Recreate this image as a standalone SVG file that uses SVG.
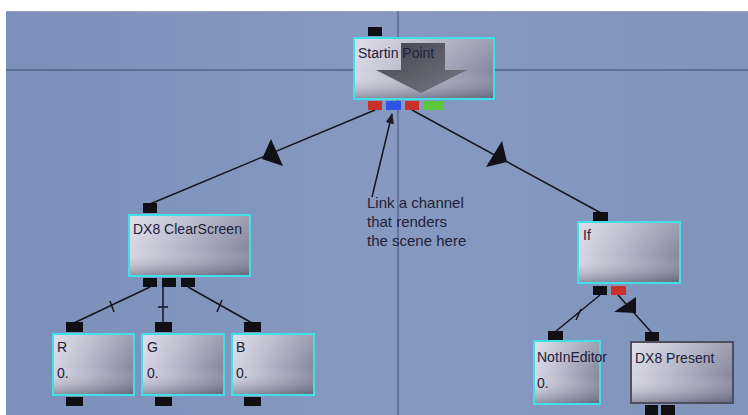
<svg xmlns="http://www.w3.org/2000/svg" width="748" height="415" viewBox="0 0 748 415">
  <defs>
    <linearGradient id="nodeFill" x1="0" y1="0" x2="1" y2="0">
      <stop offset="0" stop-color="#d8d6e4"/>
      <stop offset="0.45" stop-color="#b4b5c8"/>
      <stop offset="1" stop-color="#85879e"/>
    </linearGradient>
    <linearGradient id="nodeShade" x1="0" y1="0" x2="0" y2="1">
      <stop offset="0" stop-color="#ffffff" stop-opacity="0.2"/>
      <stop offset="0.55" stop-color="#ffffff" stop-opacity="0"/>
      <stop offset="1" stop-color="#34364e" stop-opacity="0.4"/>
    </linearGradient>
    <linearGradient id="arrowFill" x1="0" y1="0" x2="1" y2="1">
      <stop offset="0" stop-color="#44444f"/>
      <stop offset="1" stop-color="#777786"/>
    </linearGradient>
    <linearGradient id="panel" x1="0" y1="0" x2="1" y2="0">
      <stop offset="0" stop-color="#7b8fb9"/>
      <stop offset="0.5" stop-color="#8799c0"/>
      <stop offset="1" stop-color="#8094bc"/>
    </linearGradient>
    <marker id="tip" viewBox="0 0 10 10" refX="9" refY="5" markerWidth="7" markerHeight="7" orient="auto">
      <path d="M0,1 L10,5 L0,9 z" fill="#1a1a24"/>
    </marker>
  </defs>
  <style>
    .body { fill: url(#nodeFill); stroke: #3fe0e6; stroke-width: 2; }
    .shade { fill: url(#nodeShade); }
    .plain { stroke: #4e4e5c; }
    .pin { fill: #101014; }
    .red { fill: #c8302a; }
    .blue { fill: #2c55e6; }
    .green { fill: #58c83a; }
    .lbl { font-family: "Liberation Sans", Arial, sans-serif; font-size: 14px; fill: #20203a; }
    .note { font-family: "Liberation Sans", Arial, sans-serif; font-size: 15px; fill: #1e2238; }
    .link { stroke: #15151e; stroke-width: 1.5; fill: none; }
    .mark { fill: #111118; }
  </style>

  <!-- canvas -->
  <rect x="0" y="0" width="748" height="415" fill="#ffffff"/>
  <rect x="6" y="11" width="742" height="404" fill="url(#panel)"/>
  <line x1="6" y1="11.5" x2="748" y2="11.5" stroke="#9aa4bc" stroke-width="1"/>
  <line x1="6" y1="70" x2="748" y2="70" stroke="#55648a" stroke-width="1.5"/>
  <line x1="398" y1="11" x2="398" y2="415" stroke="#5a6a92" stroke-width="1.5"/>

  <!-- connectors -->
  <g id="connectors">
    <line class="link" x1="375" y1="110" x2="150" y2="204"/>
    <polygon class="mark" points="271,139 262,159 283,166"/>
    <line class="link" x1="412" y1="110" x2="601" y2="213"/>
    <polygon class="mark" points="502,141 486,167 507,162"/>
    <line class="link" x1="150" y1="287" x2="74" y2="323"/>
    <line class="link" x1="110" y1="301" x2="114" y2="312"/>
    <line class="link" x1="163" y1="287" x2="163" y2="323"/>
    <line class="link" x1="158" y1="307" x2="168" y2="307"/>
    <line class="link" x1="188" y1="287" x2="252" y2="323"/>
    <line class="link" x1="222" y1="300" x2="217" y2="312"/>
    <line class="link" x1="600" y1="295" x2="555" y2="332"/>
    <line class="link" x1="581" y1="309" x2="576" y2="320"/>
    <line class="link" x1="618" y1="295" x2="652" y2="333"/>
    <polygon class="mark" points="614,312 636,297 636,313"/>
    <line class="link" x1="372" y1="197" x2="392" y2="114" marker-end="url(#tip)"/>
  </g>

  <!-- annotation -->
  <g id="note">
    <text class="note" x="367" y="208">Link a channel</text>
    <text class="note" x="367" y="227">that renders</text>
    <text class="note" x="367" y="246">the scene here</text>
  </g>

  <!-- Startin Point -->
  <g id="start">
    <rect class="pin" x="368" y="27" width="14" height="9"/>
    <rect class="body" x="354" y="38" width="140" height="61"/>
    <rect class="shade" x="355" y="39" width="138" height="59"/>
    <path d="M401,43 H445 V70 H467 L421,93 L376,70 H401 Z" fill="url(#arrowFill)"/>
    <text class="lbl" x="358" y="58" font-size="14.5">Startin Point</text>
    <rect class="red" x="368" y="101" width="14" height="9"/>
    <rect class="blue" x="386" y="101" width="15" height="9"/>
    <rect class="red" x="405" y="101" width="14" height="9"/>
    <rect class="green" x="424" y="101" width="20" height="9"/>
  </g>

  <!-- DX8 ClearScreen -->
  <g id="clearscreen">
    <rect class="pin" x="143" y="203" width="14" height="10"/>
    <rect class="body" x="129" y="215" width="121" height="61"/>
    <rect class="shade" x="130" y="216" width="119" height="59"/>
    <text class="lbl" x="133" y="234">DX8 ClearScreen</text>
    <rect class="pin" x="143" y="278" width="14" height="9"/>
    <rect class="pin" x="162" y="278" width="14" height="9"/>
    <rect class="pin" x="181" y="278" width="14" height="9"/>
  </g>

  <!-- R -->
  <g id="r">
    <rect class="pin" x="66" y="322" width="17" height="10"/>
    <rect class="body" x="53" y="334" width="81" height="61"/>
    <rect class="shade" x="54" y="335" width="79" height="59"/>
    <text class="lbl" x="57" y="352">R</text>
    <text class="lbl" x="57" y="378">0.</text>
    <rect class="pin" x="66" y="397" width="17" height="9"/>
  </g>

  <!-- G -->
  <g id="g">
    <rect class="pin" x="155" y="322" width="17" height="10"/>
    <rect class="body" x="142" y="334" width="82" height="61"/>
    <rect class="shade" x="143" y="335" width="80" height="59"/>
    <text class="lbl" x="147" y="352">G</text>
    <text class="lbl" x="147" y="378">0.</text>
    <rect class="pin" x="155" y="397" width="17" height="9"/>
  </g>

  <!-- B -->
  <g id="b">
    <rect class="pin" x="244" y="322" width="17" height="10"/>
    <rect class="body" x="232" y="334" width="82" height="61"/>
    <rect class="shade" x="233" y="335" width="80" height="59"/>
    <text class="lbl" x="236" y="352">B</text>
    <text class="lbl" x="236" y="378">0.</text>
    <rect class="pin" x="244" y="397" width="17" height="9"/>
  </g>

  <!-- If -->
  <g id="if">
    <rect class="pin" x="593" y="212" width="15" height="9"/>
    <rect class="body" x="578" y="222" width="102" height="61"/>
    <rect class="shade" x="579" y="223" width="100" height="59"/>
    <text class="lbl" x="583" y="240">If</text>
    <rect class="pin" x="593" y="286" width="14" height="9"/>
    <rect class="red" x="611" y="286" width="15" height="9"/>
  </g>

  <!-- NotInEditor -->
  <g id="notineditor">
    <rect class="pin" x="548" y="331" width="15" height="9"/>
    <rect class="body" x="534" y="341" width="66" height="63"/>
    <rect class="shade" x="535" y="342" width="64" height="61"/>
    <text class="lbl" x="537" y="362">NotInEditor</text>
    <text class="lbl" x="537" y="388">0.</text>
  </g>

  <!-- DX8 Present -->
  <g id="present">
    <rect class="pin" x="645" y="332" width="14" height="9"/>
    <rect class="body plain" x="631" y="342" width="102" height="61"/>
    <rect class="shade" x="632" y="343" width="100" height="59"/>
    <text class="lbl" x="635" y="363">DX8 Present</text>
    <rect class="pin" x="645" y="405" width="13" height="10"/>
    <rect class="pin" x="661" y="405" width="14" height="10"/>
  </g>
</svg>
